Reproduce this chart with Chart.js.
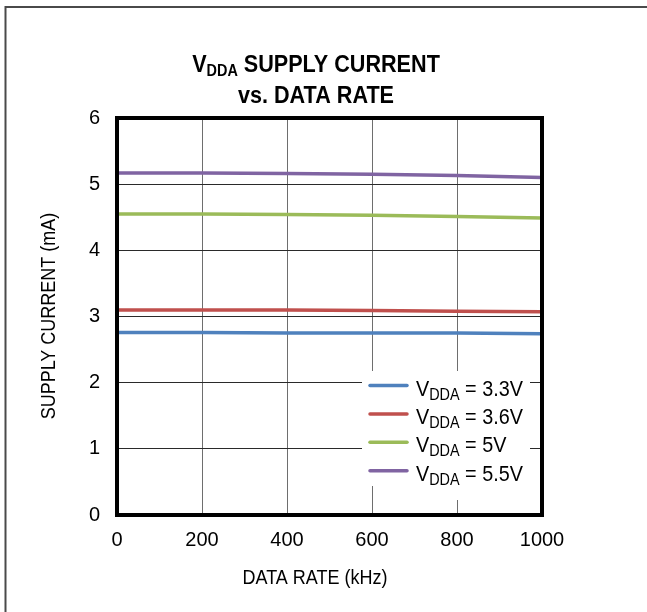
<!DOCTYPE html>
<html><head><meta charset="utf-8">
<script src="https://cdn.jsdelivr.net/npm/chart.js@4.4.1/dist/chart.umd.min.js"></script>
<style>html,body{margin:0;padding:0;background:#fff}#wrap{width:647px;height:612px;position:relative}canvas{display:block}</style>
</head><body><div id="wrap"><canvas id="c" width="647" height="612"></canvas></div>
<script>
// ---- data ----
const dataRate = [0, 200, 400, 600, 800, 1000];          // kHz
const vdda33 = [2.76, 2.76, 2.75, 2.75, 2.75, 2.74];      // mA
const vdda36 = [3.10, 3.10, 3.10, 3.09, 3.08, 3.07];
const vdda50 = [4.55, 4.55, 4.54, 4.53, 4.51, 4.49];
const vdda55 = [5.17, 5.17, 5.16, 5.15, 5.13, 5.10];
const seriesNames = ['3.3V', '3.6V', '5V', '5.5V'];
const seriesColors = ['#4F81BD', '#C0504D', '#9BBB59', '#8064A2'];
const yTickValues = [0, 1, 2, 3, 4, 5, 6];
const xTickValues = [0, 200, 400, 600, 800, 1000];
const titleMain = 'V';
const titleSub = 'DDA';
const titleRest = ' SUPPLY CURRENT';
const titleLine2 = 'vs. DATA RATE';
const xTitle = 'DATA RATE (kHz)';
const yTitle = 'SUPPLY CURRENT (mA)';

const FONT = '"Liberation Sans", Arial, sans-serif';
const SX = 0.9;

function measure(ctx, s, size, bold) {
  ctx.font = (bold ? 'bold ' : '') + size + 'px ' + FONT;
  return ctx.measureText(s).width * SX;
}
function txt(ctx, s, x, y, size, bold, align) {
  ctx.save();
  ctx.font = (bold ? 'bold ' : '') + size + 'px ' + FONT;
  const w = ctx.measureText(s).width * SX;
  let x0 = x;
  if (align === 'center') x0 = x - w / 2; else if (align === 'right') x0 = x - w;
  ctx.translate(x0, y); ctx.scale(SX, 1);
  ctx.textAlign = 'left'; ctx.textBaseline = 'alphabetic';
  ctx.fillStyle = '#000';
  ctx.fillText(s, 0, 0);
  ctx.restore();
  return w;
}

const decor = {
  id: 'decor',
  beforeDraw(chart) {
    const ctx = chart.ctx;
    ctx.save();
    ctx.fillStyle = '#fff';
    ctx.fillRect(0, 0, chart.width, chart.height);
    ctx.strokeStyle = '#4a4a4a';
    ctx.lineWidth = 2;
    ctx.beginPath();
    ctx.moveTo(5.5, 700); ctx.lineTo(5.5, 7); ctx.lineTo(700, 7);
    ctx.stroke();
    ctx.restore();
  },
  afterDraw(chart) {
    const ctx = chart.ctx;
    const a = chart.chartArea;
    ctx.save();
    // plot frame
    ctx.strokeStyle = '#000';
    ctx.lineWidth = 4;
    ctx.strokeRect(a.left, a.top, a.right - a.left, a.bottom - a.top);
    // title
    const s1 = 24, s2 = 16;
    const wV = measure(ctx, titleMain, s1, true);
    const wD = measure(ctx, titleSub, s2, true);
    const wR = measure(ctx, titleRest, s1, true);
    const cx = 316;
    let x = cx - (wV + wD + wR) / 2;
    txt(ctx, titleMain, x, 72, s1, true, 'left'); x += wV;
    txt(ctx, titleSub, x, 76, s2, true, 'left'); x += wD;
    txt(ctx, titleRest, x, 72, s1, true, 'left');
    txt(ctx, titleLine2, cx, 103, s1, true, 'center');
    // axis titles
    txt(ctx, xTitle, 315, 584, 20, false, 'center');
    ctx.save();
    ctx.translate(55, 316);
    ctx.rotate(-Math.PI / 2);
    txt(ctx, yTitle, 0, 0, 20, false, 'center');
    ctx.restore();
    // legend
    ctx.fillStyle = '#fff';
    ctx.fillRect(362, 371, 168, 115);
    ctx.fillRect(414, 486, 48, 14);
    for (let i = 0; i < seriesNames.length; i++) {
      const ly = 385.5 + i * 28.4;
      ctx.strokeStyle = seriesColors[i];
      ctx.lineWidth = 3.5;
      ctx.lineCap = 'round';
      ctx.beginPath(); ctx.moveTo(370, ly); ctx.lineTo(407, ly); ctx.stroke();
      let lx = 416;
      lx += txt(ctx, 'V', lx, ly + 10, 22, false, 'left');
      lx += txt(ctx, 'DDA', lx, ly + 14, 16, false, 'left');
      txt(ctx, ' = ' + seriesNames[i], lx, ly + 10, 22, false, 'left');
    }
    ctx.restore();
  }
};

const series = [vdda33, vdda36, vdda50, vdda55];
const datasets = series.map((vals, i) => ({
  label: 'VDDA = ' + seriesNames[i],
  data: dataRate.map((r, j) => ({ x: r, y: vals[j] })),
  borderColor: seriesColors[i],
  backgroundColor: seriesColors[i],
  borderWidth: 3.5,
  pointRadius: 0,
  tension: 0,
  fill: false
}));

new Chart(document.getElementById('c'), {
  type: 'line',
  data: { datasets },
  options: {
    responsive: false,
    animation: false,
    devicePixelRatio: 1,
    layout: { padding: { left: 0, top: 118, right: 105, bottom: 0 } },
    plugins: { legend: { display: false }, title: { display: false }, tooltip: { enabled: false } },
    scales: {
      x: {
        type: 'linear', min: 0, max: 1000,
        afterBuildTicks: (s) => { s.ticks = xTickValues.map(v => ({ value: v })); },
        afterFit: (s) => { s.height = 97; },
        grid: { color: '#6e6e6e', lineWidth: 1, drawTicks: false },
        border: { display: false },
        ticks: { color: '#000', padding: 13, maxRotation: 0, font: { family: FONT, size: 20 }, callback: (v) => String(v) }
      },
      y: {
        type: 'linear', min: 0, max: 6,
        afterBuildTicks: (s) => { s.ticks = yTickValues.map(v => ({ value: v })); },
        afterFit: (s) => { s.width = 117; },
        grid: { color: '#2a2a2a', lineWidth: 1, drawTicks: false },
        border: { display: false },
        ticks: { color: '#000', padding: 17, font: { family: FONT, size: 20 }, callback: (v) => String(v) }
      }
    }
  },
  plugins: [decor]
});
</script>
</body></html>
